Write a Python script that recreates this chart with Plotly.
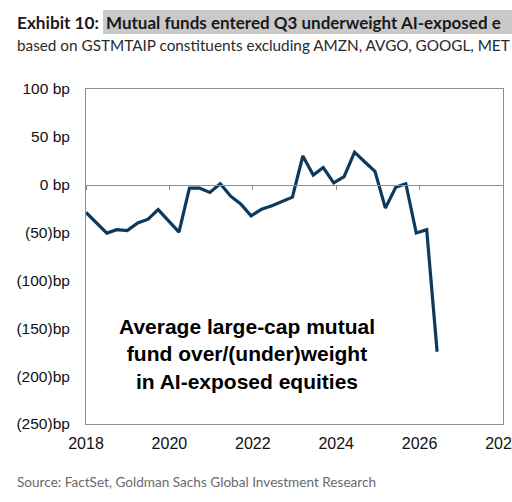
import plotly.graph_objects as go

# Data (decimal year, bp over/(under)weight)
years = [2018.00, 2018.25, 2018.50, 2018.74, 2018.99, 2019.24, 2019.49, 2019.73,
         2019.98, 2020.23, 2020.48, 2020.72, 2020.97, 2021.22, 2021.47, 2021.71,
         2021.96, 2022.21, 2022.46, 2022.70, 2022.95, 2023.20, 2023.45, 2023.69,
         2023.94, 2024.19, 2024.44, 2024.68, 2024.93, 2025.18, 2025.43, 2025.67,
         2025.92, 2026.17, 2026.42]
weights = [-29, -40, -50.5, -47, -48, -40, -36, -26,
           -38, -49.5, -3.5, -3.5, -8, 1, -12, -20,
           -32.5, -25.5, -22, -17.5, -13, 30, 10, 18,
           2, 8.5, 34, 24, 14, -24.5, -2.5, 1,
           -50.5, -47, -174.5]

x_ticks = [2018, 2020, 2022, 2024, 2026, 2028]
y_ticks = [100, 50, 0, -50, -100, -150, -200, -250]
y_tick_labels = ["100 bp", "50 bp", "0 bp", "(50)bp", "(100)bp", "(150)bp", "(200)bp", "(250)bp"]

title_lead = "Exhibit 10: "
title_main = "Mutual funds entered Q3 underweight AI-exposed e"
subtitle = "based on GSTMTAIP constituents excluding AMZN, AVGO, GOOGL, MET"
source = "Source: FactSet, Goldman Sachs Global Investment Research"
label = "Average large-cap mutual<br>fund over/(under)weight<br>in AI-exposed equities"

LINE = "#0d3a5c"
AX = "#8e8e8e"

L, R, T, B = 86, 9, 89, 78
PW, PH = 512 - L - R, 502 - T - B


def px(x):
    return (x - L) / PW


def py(y):
    return (502 - B - y) / PH


fig = go.Figure()
fig.add_trace(go.Scatter(x=years, y=weights, mode="lines",
                         line=dict(color=LINE, width=3.2), hoverinfo="skip",
                         showlegend=False))
# invisible trace carrying the zero-crossing axis
fig.add_trace(go.Scatter(x=years, y=weights, mode="lines", xaxis="x2",
                         line=dict(color="rgba(0,0,0,0)", width=0),
                         hoverinfo="skip", showlegend=False))

fig.update_layout(
    width=512, height=502,
    margin=dict(l=L, r=R, t=T, b=B, autoexpand=False),
    paper_bgcolor="white", plot_bgcolor="white",
    font=dict(family="Liberation Sans, Arial", color="#111111"),
    xaxis=dict(range=[2018, 2028], tickvals=x_ticks, ticktext=[str(v) for v in x_ticks],
               showgrid=False, zeroline=False, showline=True, mirror=True, automargin=False,
               linecolor=AX, linewidth=1, ticks="", tickfont=dict(size=16, color="#111111"),
               ticklabelstandoff=5, ticklabeloverflow="allow"),
    xaxis2=dict(range=[2018, 2028], overlaying="x", anchor="free", automargin=False,
                position=250 / 350, tickvals=x_ticks, showticklabels=False,
                showgrid=False, zeroline=False, showline=True, linecolor=AX, linewidth=1,
                ticks="outside", ticklen=4, tickcolor=AX, tickwidth=1),
    yaxis=dict(range=[-250, 100], tickvals=y_ticks, ticktext=y_tick_labels, automargin=False,
               showgrid=False, zeroline=False, showline=True, mirror=True,
               linecolor=AX, linewidth=1, ticks="", tickfont=dict(size=15.5, color="#111111"),
               ticklabelstandoff=12),
)

# header highlight band
fig.add_shape(type="rect", xref="paper", yref="paper",
              x0=px(103), x1=px(540), y0=py(34), y1=py(10),
              fillcolor="#c9c9c9", line=dict(width=0), layer="below")

fig.add_annotation(text="<b>" + title_lead + "</b>", xref="paper", yref="paper",
                   x=px(15), y=py(22), xanchor="left", yanchor="middle",
                   showarrow=False, font=dict(family="Lato", size=17.2, color="#1a1a1a"))
fig.add_annotation(text="<b>" + title_main + "</b>", xref="paper", yref="paper",
                   x=px(104), y=py(22), xanchor="left", yanchor="middle",
                   showarrow=False, font=dict(family="Lato", size=17, color="#1a1a1a"))
fig.add_annotation(text=subtitle, xref="paper", yref="paper",
                   x=px(15), y=py(45), xanchor="left", yanchor="middle",
                   showarrow=False, font=dict(family="Lato", size=15.3, color="#2a2a2a"))
fig.add_annotation(text=source, xref="paper", yref="paper",
                   x=px(15), y=py(482), xanchor="left", yanchor="middle",
                   showarrow=False, font=dict(family="Lato", size=13.6, color="#6a6a6a"))
fig.add_annotation(text="<b>" + label + "</b>", xref="paper", yref="paper",
                   x=px(246.5), y=py(354), xanchor="center", yanchor="middle",
                   showarrow=False, align="center",
                   font=dict(family="Liberation Sans, Arial", size=21, color="#000000"))

fig.write_html("out.html", config={"displayModeBar": False},
               post_script="document.body.style.margin='0';document.body.style.overflow='hidden';")
